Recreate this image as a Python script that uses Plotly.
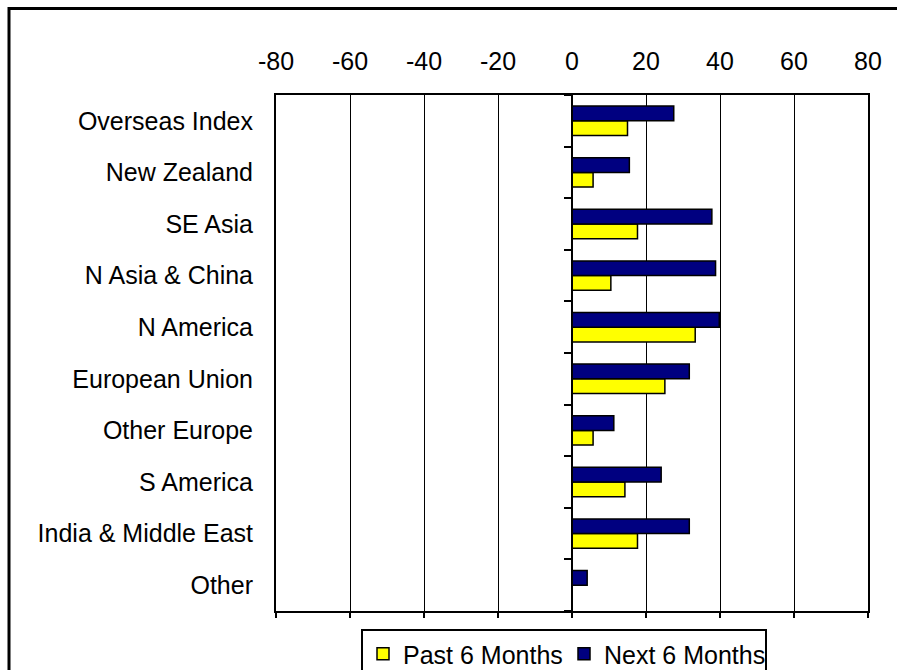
import plotly.graph_objects as go

categories = ["Overseas Index", "New Zealand", "SE Asia", "N Asia & China", "N America",
              "European Union", "Other Europe", "S America", "India & Middle East", "Other"]
past_6_months = [15.0, 5.7, 17.7, 10.5, 33.3, 25.1, 5.7, 14.3, 17.7, 0]
next_6_months = [27.5, 15.5, 37.8, 38.8, 39.8, 31.7, 11.3, 24.1, 31.7, 4.1]
x_ticks = [-80, -60, -40, -20, 0, 20, 40, 60, 80]
x_tick_labels = ["-80", "-60", "-40", "-20", "0", "20", "40", "60", "80"]

FONT = "Liberation Sans, Arial, sans-serif"
FS = 25

fig = go.Figure()
fig.add_trace(go.Bar(
    name="Past 6 Months", y=categories, x=past_6_months, orientation="h",
    marker=dict(color="#FFFF00", line=dict(color="black", width=1.5)),
))
fig.add_trace(go.Bar(
    name="Next 6 Months", y=categories, x=next_6_months, orientation="h",
    marker=dict(color="#000080", line=dict(color="black", width=1.5)),
))
# invisible helper trace carrying the category axis drawn at x = 0
fig.add_trace(go.Scatter(
    x=[0] * len(categories), y=categories, yaxis="y2", mode="markers",
    marker=dict(opacity=0), showlegend=False, hoverinfo="skip",
))
# invisible helper trace carrying the bottom value-axis tick marks
fig.add_trace(go.Scatter(
    x=[0] * len(categories), y=categories, xaxis="x2", mode="markers",
    marker=dict(opacity=0), showlegend=False, hoverinfo="skip",
))

W, H = 897, 670
L, R, T, B = 276, 29, 95, 59
pw, ph = W - L - R, H - T - B

def px_x(p):
    return (p - L) / pw

def px_y(p):
    return 1 - (p - T) / ph

cat_order = list(reversed(categories))
n = len(categories)
yr = [-0.5, n - 0.5]

fig.update_layout(
    width=W, height=H,
    margin=dict(l=L, r=R, t=T, b=B, autoexpand=False),
    paper_bgcolor="white", plot_bgcolor="white",
    font=dict(family=FONT, size=FS, color="black"),
    barmode="group", bargap=0.43, bargroupgap=0,
    xaxis=dict(
        range=[-80, 80], tickvals=x_ticks, ticktext=x_tick_labels, side="top",
        showgrid=True, gridcolor="black", gridwidth=1,
        zeroline=False, showline=True, linecolor="black", linewidth=2,
        mirror=True, ticks="", ticklabelstandoff=13,
        tickfont=dict(size=FS),
    ),
    xaxis2=dict(
        range=[-80, 80], tickvals=x_ticks, overlaying="x",
        side="bottom", anchor="y", showticklabels=False, ticks="outside",
        ticklen=6, tickwidth=2, tickcolor="black", showgrid=False, zeroline=False,
        showline=False,
    ),
    yaxis=dict(
        type="category", categoryorder="array", categoryarray=cat_order, range=yr,
        showgrid=False, showline=True, linecolor="black", linewidth=2, mirror=True,
        ticks="", ticklabelstandoff=16, tickfont=dict(size=FS),
    ),
    yaxis2=dict(
        type="category", categoryorder="array", categoryarray=cat_order, range=yr,
        overlaying="y", anchor="free", position=0.5, side="left",
        showgrid=False, showline=True, linecolor="black", linewidth=2,
        ticks="outside", ticklen=7, tickwidth=2, tickcolor="black",
        tickson="boundaries", showticklabels=False,
    ),
    legend=dict(
        orientation="h", x=px_x(361), y=px_y(629), xanchor="left", yanchor="top",
        bordercolor="black", borderwidth=2, font=dict(size=FS),
        entrywidth=156, entrywidthmode="pixels", itemwidth=30,
    ),
    showlegend=True,
)

# outer chart frame, extending beyond the visible window on right and bottom
fig.add_shape(type="rect", xref="paper", yref="paper",
              x0=px_x(9), x1=px_x(905), y0=px_y(690), y1=px_y(8.5),
              line=dict(color="black", width=3), layer="below")

fig.write_html("out.html")
